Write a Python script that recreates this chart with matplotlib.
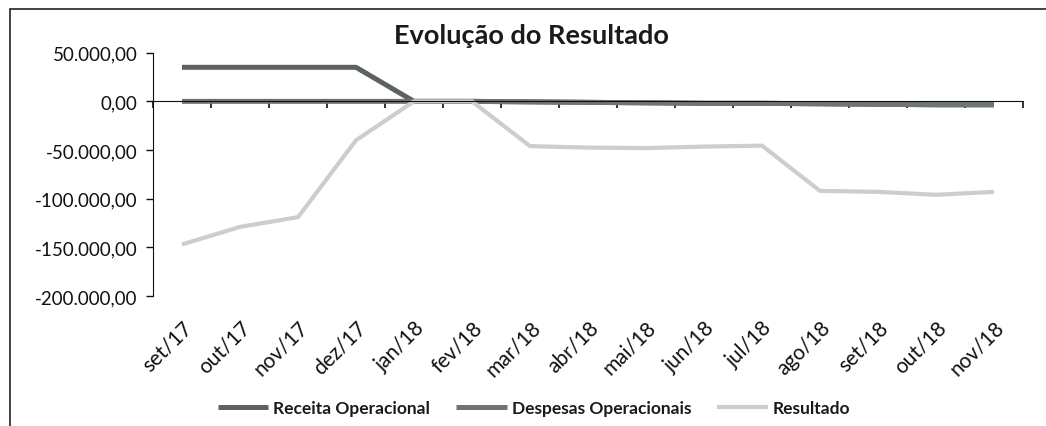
import numpy as np
import matplotlib.pyplot as plt
from matplotlib.patches import Rectangle
from matplotlib.ticker import FuncFormatter

plt.rcParams['font.family'] = ['Lato', 'DejaVu Sans']

meses = ["set/17", "out/17", "nov/17", "dez/17", "jan/18", "fev/18", "mar/18",
         "abr/18", "mai/18", "jun/18", "jul/18", "ago/18", "set/18", "out/18", "nov/18"]

receita = [35000, 35000, 35000, 35000, 0, 0, -500, -1000, -1500, -2000,
           -2000, -2500, -3000, -3500, -3500]
despesas = [0, 0, 0, 0, 0, 0, -500, -1000, -1500, -2000,
            -2000, -2500, -3000, -3500, -3500]
resultado = [-147000, -129000, -119000, -40000, 0, 0, -46000, -47500, -48000,
             -46500, -45500, -92000, -93000, -96000, -93000]

yticks = [50000, 0, -50000, -100000, -150000, -200000]


def fmt_br(v, pos=None):
    s = f"{abs(v):,.2f}".replace(",", "X").replace(".", ",").replace("X", ".")
    return ("-" if v < 0 else "") + s


fig = plt.figure(figsize=(10.46, 4.27), dpi=100)
ax = fig.add_axes([153 / 1046, 1 - 297 / 427, (1023 - 153) / 1046, (297 - 53.7) / 427])

x = np.arange(len(meses))
ax.plot(x, receita, color="#5c6164", lw=3.6, solid_capstyle="butt", label="Receita Operacional")
ax.plot(x, despesas, color="#6e7574", lw=3.6, solid_capstyle="butt", label="Despesas Operacionais")
ax.plot(x, resultado, color="#cdcdcd", lw=3.0, solid_capstyle="butt", label="Resultado")

ax.set_xlim(-0.5, len(meses) - 0.5)
ax.set_ylim(-200000, 50000)

# y axis
ax.set_yticks(yticks)
ax.yaxis.set_major_formatter(FuncFormatter(fmt_br))
ax.tick_params(axis="y", direction="out", length=5, width=1, labelsize=13.5, pad=6, colors="#111111")
ax.spines["left"].set_color("#111111")
ax.spines["top"].set_visible(False)
ax.spines["right"].set_visible(False)

# x axis crosses at zero, ticks between categories
ax.spines["bottom"].set_position(("data", 0))
ax.spines["bottom"].set_color("#111111")
ax.set_xticks(np.arange(len(meses) + 1) - 0.5)
ax.set_xticklabels([])
ax.tick_params(axis="x", direction="out", length=5, width=1.2, colors="#111111")

# category labels at the bottom of the plot area
sec = ax.secondary_xaxis("bottom")
sec.spines["bottom"].set_visible(False)
sec.set_xticks(x)
sec.set_xticklabels(meses, rotation=45, ha="right", rotation_mode="anchor")
sec.tick_params(length=0, labelsize=15, pad=15, colors="#111111")

fig.text(531 / 1046, 1 - 36 / 427, "Evolução do Resultado", ha="center", va="center",
         fontsize=19.5, fontweight="bold", color="#1a1a1a")

fig.legend(loc="center", bbox_to_anchor=(534 / 1046, 1 - 409 / 427), ncol=3, frameon=False,
           prop={"size": 12.5, "weight": "bold"}, labelcolor="#1a1a1a",
           handlelength=2.9, handletextpad=0.3, columnspacing=1.5)

fig.patches.append(Rectangle((10 / 1046, -0.05), 1.1, 1 - 10 / 427 + 0.05,
                             transform=fig.transFigure, fill=False,
                             edgecolor="#222222", lw=1.2))

fig.savefig("out.png", dpi=100)
